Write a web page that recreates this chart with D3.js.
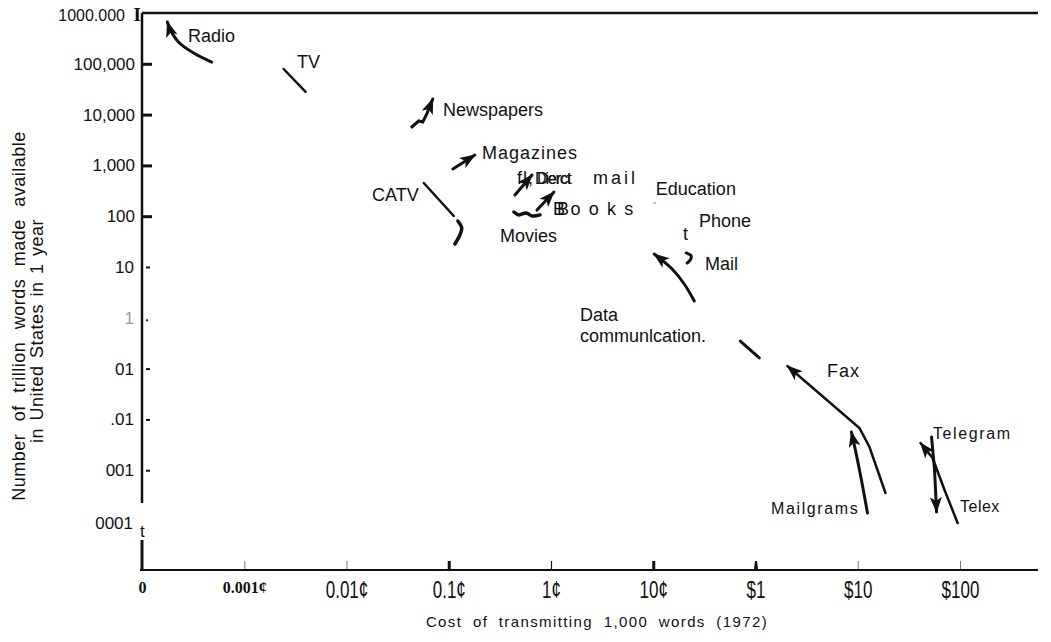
<!DOCTYPE html>
<html><head><meta charset="utf-8">
<script src="https://cdn.jsdelivr.net/npm/d3@7"></script>
<style>
body{margin:0;background:#fff;}
svg{display:block;font-family:"Liberation Sans",Arial,Helvetica,sans-serif;}
</style></head><body>
<svg id="chart" width="1051" height="642"></svg>
<script>
// ---------- data (cost of 1,000 words in cents, trillion words per year) ----------
const xTickValues = [1e-4, 1e-3, 1e-2, 1e-1, 1, 10, 100, 1000, 10000];
const xTickLabels = ["0", "0.001¢", "0.01¢", "0.1¢", "1¢", "10¢", "$1", "$10", "$100"];
const yTickValues = [1e6, 1e5, 1e4, 1e3, 100, 10, 1, 0.1, 0.01, 0.001, 0.0001];
const yTickLabels = ["1000.000", "100,000", "10,000", "1,000", "100", "10", "1", "01", ".01", "001", "0001"];

const radio      = [[0.00048,108000],[0.00032,163000],[0.000227,269000],[0.00019,462000],[0.000177,666000]];
const tv         = [[0.00243,79000],[0.00398,27900]];
const newspapers = [[0.0435,5700],[0.0509,7480],[0.0557,7150],[0.061,10300],[0.0698,20300]];
const magazines  = [[0.1097,849],[0.180,1600]];
const catv       = [[0.057,451],[0.112,101]];
const catvHook   = [[0.1228,80.5],[0.134,58.6],[0.1285,42.7],[0.1148,28.4]];
const directMail = [[0.444,261],[0.652,647]];
const books      = [[0.729,132],[1.07,299]];
const movies     = [[0.434,121],[0.486,106],[0.569,116],[0.652,101],[0.780,106]];
const education  = [[10.0,182],[10.6,182]];
const mail       = [[21.0,18.9],[23.5,16.5],[23.0,13.7],[21.5,12.0]];
const dataComm   = [[25.2,2.14],[20.1,4.63],[15.3,9.14],[10.2,18.0]];
const dataComm2  = [[71.0,0.349],[109,0.162]];
const fax        = [[1867,0.000356],[1302,0.00286],[1039,0.00678],[205,0.1125]];
const mailgrams  = [[1245,0.000144],[1087,0.000641],[971,0.00199],[867,0.00565]];
const telex      = [[9480,0.0000914],[7060,0.000407],[5390,0.00174],[4110,0.00343]];
const telegram   = [[5270,0.00451],[5640,0.00101],[5900,0.000150]];

const labelTexts   = ["Radio","TV","Newspapers","Magazines","CATV","Movies","Education","Phone","t","Mail","Data","communlcation.","Fax","Telegram","Mailgrams","Telex"];
const labelAnchors = [[2.82e-4,2.69e5],[3.28e-3,8.26e4],[0.0879,9380],[0.211,1337],[0.0178,199],[0.317,31.0],[10.6,261],[28.0,61.2],[19.5,34.0],[32.1,8.73],[1.92,0.865],[1.92,0.334],[500,0.0684],[5445,0.00411],[142,1.37e-4],[10000,1.50e-4]];

// ---------- layout ----------
const svg = d3.select("#chart");
const ink = "#111";
const x = d3.scaleLog().domain([1e-4, 1e4]).range([142, 960]);
const y = d3.scaleLog().domain([1e-4, 1e6]).range([521, 13]);
const xEnd = 1038, axisY = 570, axisX = 142;

svg.append("defs").append("marker")
  .attr("id","arrow").attr("viewBox","0 0 16 12").attr("refX",15).attr("refY",6)
  .attr("markerWidth",16).attr("markerHeight",12).attr("markerUnits","userSpaceOnUse")
  .attr("orient","auto")
  .append("path").attr("d","M0,0 L16,6 L0,12 L4,6 Z").attr("fill",ink);

// frame
svg.append("line").attr("x1",axisX).attr("x2",xEnd).attr("y1",y(1e6)).attr("y2",y(1e6))
  .attr("stroke",ink).attr("stroke-width",2.5);
svg.append("line").attr("x1",axisX).attr("x2",axisX).attr("y1",y(1e6)).attr("y2",503)
  .attr("stroke",ink).attr("stroke-width",2.5);
svg.append("line").attr("x1",axisX).attr("x2",axisX).attr("y1",540).attr("y2",axisY)
  .attr("stroke",ink).attr("stroke-width",3);
svg.append("line").attr("x1",axisX-2).attr("x2",xEnd).attr("y1",axisY).attr("y2",axisY)
  .attr("stroke",ink).attr("stroke-width",2.2);
svg.append("text").attr("x",axisX-2).attr("y",537).attr("font-size",17).attr("fill",ink).text("t");
svg.append("text").attr("x",axisX-1).attr("y",21).attr("text-anchor","end")
  .attr("font-family","'Liberation Serif','Times New Roman',serif").attr("font-weight","bold")
  .attr("font-size",19).attr("fill",ink).text("I");

// y axis
const yAxis = d3.axisLeft(y).tickValues(yTickValues).tickFormat((d,i)=>yTickLabels[i]).tickSize(0).tickPadding(7);
const gy = svg.append("g").attr("transform",`translate(${axisX},0)`).call(yAxis);
gy.select(".domain").remove();
gy.selectAll(".tick text").attr("font-family","'Liberation Sans',Arial,sans-serif")
  .attr("font-size",17).attr("fill",ink)
  .each(function(d,i){
    const t = d3.select(this);
    if (i === 0) t.attr("x",-17).attr("font-size",16).attr("dy","0.45em");
    if (i >= 5) t.attr("x",-8);
    if (i === 6) t.attr("fill","#999");
    if (i === 10) t.attr("dy","0.45em").attr("x",-9);
  });
gy.selectAll(".tick").each(function(d,i){
  const g = d3.select(this);
  if (i >= 1 && i <= 4) g.append("line").attr("x1",0).attr("x2",10).attr("stroke",ink).attr("stroke-width",3);
  else if (i === 5 || (i >= 7 && i <= 9)) g.append("line").attr("x1",4).attr("x2",8).attr("stroke",ink).attr("stroke-width",2);
  else if (i === 6) g.append("circle").attr("cx",5).attr("cy",2).attr("r",1.1).attr("fill",ink);
});

// x axis
const xAxis = d3.axisBottom(x).tickValues(xTickValues).tickFormat((d,i)=>xTickLabels[i]).tickSize(0).tickPadding(0);
const gx = svg.append("g").attr("transform",`translate(0,${axisY})`).call(xAxis);
gx.select(".domain").remove();
gx.selectAll(".tick text").attr("fill",ink).attr("dy",null).attr("y",28)
  .each(function(d,i){
    const t = d3.select(this);
    if (i <= 1) {
      t.attr("font-family","'Liberation Serif','Times New Roman',serif").attr("font-weight","bold").attr("font-size",16).attr("y",23);
    } else {
      t.attr("font-family","'Liberation Sans',Arial,sans-serif").attr("font-size",23).attr("transform","scale(0.74,1)");
    }
  });
gx.selectAll(".tick").each(function(d,i){
  const g = d3.select(this);
  if (i === 1 || i === 2 || i === 7 || i === 8) g.append("line").attr("y1",-1).attr("y2",-9).attr("stroke","#777").attr("stroke-width",1);
  else if (i === 4) g.append("line").attr("y1",-1).attr("y2",-9).attr("stroke",ink).attr("stroke-width",1.2);
  else if (i === 3 || i === 5) g.append("line").attr("y1",-1).attr("y2",-9).attr("stroke",ink).attr("stroke-width",3);
  else if (i === 6) g.append("path").attr("d","M-2,-1 L-1,-9 L1,-9 L2,-1 Z").attr("fill",ink);
});

// axis titles
svg.append("text").attr("x",597).attr("y",627).attr("text-anchor","middle")
  .attr("font-size",15).attr("letter-spacing",1.4).attr("word-spacing",5).attr("fill",ink)
  .text("Cost of transmitting 1,000 words (1972)");
svg.append("text").attr("transform","translate(25,316) rotate(-90)").attr("text-anchor","middle")
  .attr("font-size",18).attr("letter-spacing",0.5).attr("word-spacing",7).attr("fill",ink)
  .text("Number of trillion words made available");
svg.append("text").attr("transform","translate(43,331) rotate(-90)").attr("text-anchor","middle")
  .attr("font-size",18).attr("letter-spacing",0.5).attr("word-spacing",2).attr("fill",ink)
  .text("in United States in 1 year");

// series
const series = [
  {pts:radio, arrow:true, curve:d3.curveCatmullRom, w:3},
  {pts:tv, arrow:false, curve:d3.curveLinear, w:2.5},
  {pts:newspapers, arrow:true, curve:d3.curveLinear, w:3},
  {pts:magazines, arrow:true, curve:d3.curveLinear, w:3},
  {pts:catv, arrow:false, curve:d3.curveLinear, w:2.5},
  {pts:catvHook, arrow:false, curve:d3.curveCatmullRom, w:3.5},
  {pts:directMail, arrow:true, curve:d3.curveLinear, w:3},
  {pts:books, arrow:true, curve:d3.curveLinear, w:3},
  {pts:movies, arrow:false, curve:d3.curveCatmullRom, w:3.5},
  {pts:education, arrow:false, curve:d3.curveLinear, w:1, color:"#888"},
  {pts:mail, arrow:false, curve:d3.curveCatmullRom, w:3},
  {pts:dataComm, arrow:true, curve:d3.curveCatmullRom, w:3},
  {pts:dataComm2, arrow:false, curve:d3.curveLinear, w:3},
  {pts:fax, arrow:true, curve:d3.curveLinear, w:2.5},
  {pts:mailgrams, arrow:true, curve:d3.curveCatmullRom, w:3},
  {pts:telex, arrow:true, curve:d3.curveLinear, w:2.5},
  {pts:telegram, arrow:true, curve:d3.curveLinear, w:3}
];
const gs = svg.append("g");
series.forEach(s => {
  const line = d3.line().x(d=>x(d[0])).y(d=>y(d[1])).curve(s.curve);
  gs.append("path").attr("d",line(s.pts)).attr("fill","none")
    .attr("stroke",s.color||ink).attr("stroke-width",s.w).attr("stroke-linecap","round")
    .attr("marker-end",s.arrow?"url(#arrow)":null);
});

// labels
const gl = svg.append("g").attr("font-size",18).attr("fill",ink);
labelTexts.forEach((t,i) => {
  const el = gl.append("text").attr("x",x(labelAnchors[i][0])).attr("y",y(labelAnchors[i][1])).text(t);
  if (t === "Magazines" || t === "Fax") el.attr("letter-spacing",1);
  if (t === "Telegram" || t === "Mailgrams") el.attr("font-size",16).attr("letter-spacing",1.6);
  if (t === "Telex") el.attr("font-size",16).attr("letter-spacing",0.5);
});
// garbled "Direct mail" and "Books" labels as in the scan (single text elements with shifted runs)
const dmX = x(0.465), dmY = y(430);
const dm = gl.append("text").attr("x",dmX).attr("y",dmY);
dm.append("tspan").attr("letter-spacing",1).text("fl,");
dm.append("tspan").attr("x",dmX+18).attr("font-size",16).attr("letter-spacing",-1).text("Dierct");
dm.append("tspan").attr("x",dmX+20).attr("font-size",16).attr("letter-spacing",-1).text("Derct");
dm.append("tspan").attr("x",dmX+76).attr("letter-spacing",3).text("mail");
const bkX = x(1.046), bkY = y(106);
const bk = gl.append("text").attr("x",bkX).attr("y",bkY);
bk.append("tspan").text("B");
bk.append("tspan").attr("x",bkX+4).attr("letter-spacing",1.6).text("Bo o k s");
</script>
</body></html>
